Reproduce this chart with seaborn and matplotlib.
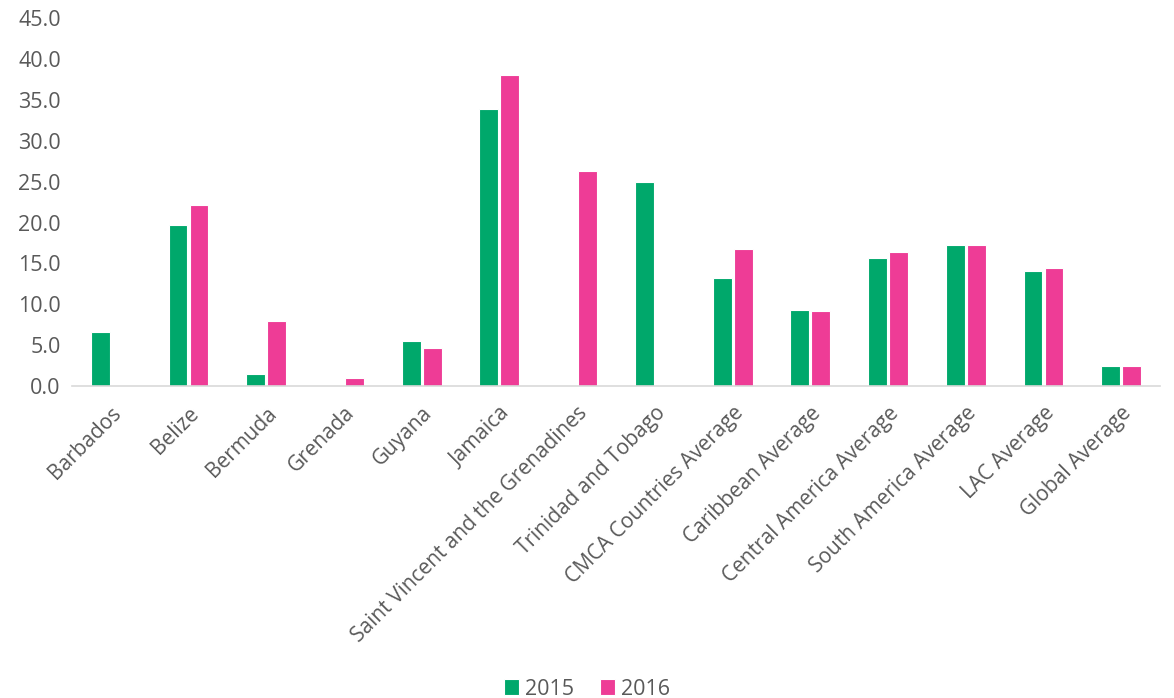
import numpy as np
import pandas as pd
import matplotlib
matplotlib.use("Agg")
import matplotlib.pyplot as plt
import seaborn as sns

categories = [
    "Barbados", "Belize", "Bermuda", "Grenada", "Guyana", "Jamaica",
    "Saint Vincent and the Grenadines", "Trinidad and Tobago",
    "CMCA Countries Average", "Caribbean Average", "Central America Average",
    "South America Average", "LAC Average", "Global Average",
]
values_2015 = [6.6, 19.7, 1.5, np.nan, 5.5, 33.9, np.nan, 24.9,
               13.2, 9.3, 15.7, 17.2, 14.1, 2.4]
values_2016 = [np.nan, 22.2, 8.0, 1.0, 4.7, 38.1, 26.3, np.nan,
               16.7, 9.2, 16.4, 17.3, 14.4, 2.5]
years = ["2015", "2016"]
y_ticks = [0, 5, 10, 15, 20, 25, 30, 35, 40, 45]

df = pd.concat([
    pd.DataFrame({"category": categories, "year": years[0], "value": values_2015}),
    pd.DataFrame({"category": categories, "year": years[1], "value": values_2016}),
], ignore_index=True)

sns.set_theme(style="white")
plt.rcParams["font.family"] = ["Open Sans", "DejaVu Sans"]

text_color = "#595959"
palette = {"2015": "#00A86B", "2016": "#EE3C96"}

fig = plt.figure(figsize=(11.74, 6.98), dpi=100)
ax = fig.add_axes([0.0613, 0.447, 0.9268, 0.527])

sns.barplot(data=df, x="category", y="value", hue="year", order=categories,
            hue_order=years, palette=palette, width=0.54, gap=0.1,
            edgecolor="white", linewidth=0.8, saturation=1, ax=ax)

ax.set_ylim(0, 45)
ax.set_xlim(-0.5, len(categories) - 0.5)
ax.set_yticks(y_ticks)
ax.set_yticklabels([f"{t:.1f}" for t in y_ticks], fontsize=15.5, color=text_color)
ax.set_xticks(range(len(categories)))
ax.set_xticklabels(categories, rotation=45, ha="right", rotation_mode="anchor",
                   fontsize=15, color=text_color)
ax.tick_params(axis="x", length=0, pad=12)
ax.tick_params(axis="y", length=0, pad=8)
ax.set_xlabel("")
ax.set_ylabel("")

for side in ["top", "right", "left"]:
    ax.spines[side].set_visible(False)
ax.spines["bottom"].set_color("#d9d9d9")
ax.spines["bottom"].set_linewidth(1.2)

handles, labels = ax.get_legend_handles_labels()
ax.legend_.remove()
fig.legend(handles, labels, loc="lower center", bbox_to_anchor=(0.5, -0.03),
           ncol=2, frameon=False, fontsize=15.5, labelcolor=text_color,
           handlelength=0.7, handleheight=0.7, handletextpad=0.3,
           columnspacing=1.2)

fig.savefig("out.png", dpi=100, facecolor="white")
